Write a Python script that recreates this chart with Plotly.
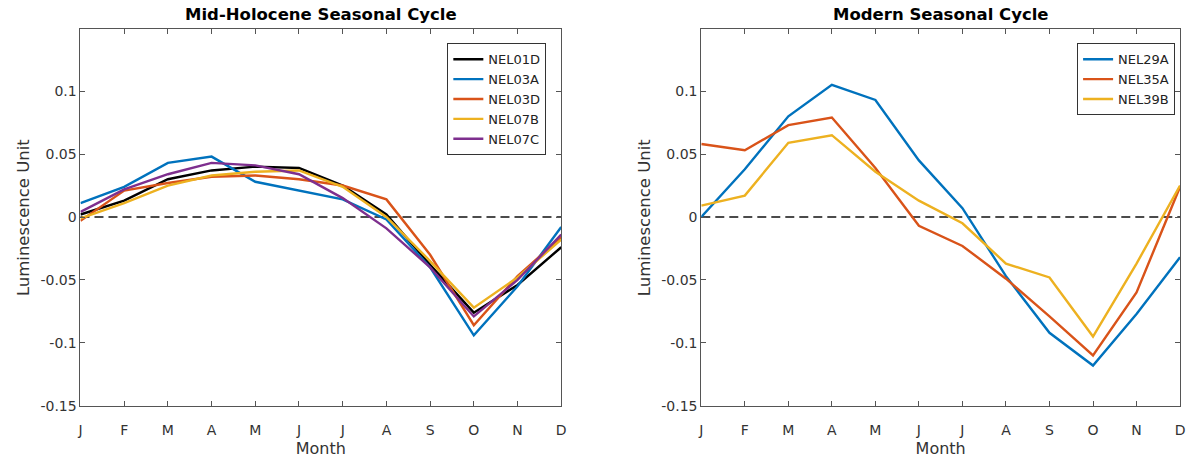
import plotly.graph_objects as go

months = ["J", "F", "M", "A", "M", "J", "J", "A", "S", "O", "N", "D"]

# Mid-Holocene series
nel01d = [0.002, 0.013, 0.030, 0.037, 0.040, 0.039, 0.025, 0.002, -0.038, -0.076, -0.054, -0.024]
nel03a = [0.011, 0.024, 0.043, 0.048, 0.028, 0.021, 0.014, -0.002, -0.040, -0.094, -0.055, -0.008]
nel03d = [-0.003, 0.021, 0.027, 0.032, 0.033, 0.030, 0.025, 0.014, -0.030, -0.086, -0.047, -0.016]
nel07b = [-0.001, 0.011, 0.025, 0.033, 0.036, 0.037, 0.024, 0.000, -0.035, -0.072, -0.048, -0.018]
nel07c = [0.004, 0.022, 0.034, 0.043, 0.041, 0.034, 0.015, -0.009, -0.040, -0.079, -0.050, -0.014]

# Modern series
nel29a = [0.000, 0.038, 0.080, 0.105, 0.093, 0.045, 0.007, -0.047, -0.092, -0.118, -0.077, -0.032]
nel35a = [0.058, 0.053, 0.073, 0.079, 0.039, -0.007, -0.023, -0.049, -0.079, -0.110, -0.060, 0.024]
nel39b = [0.009, 0.017, 0.059, 0.065, 0.036, 0.013, -0.005, -0.037, -0.048, -0.095, -0.037, 0.025]

ytickvals = [-0.15, -0.1, -0.05, 0, 0.05, 0.1]
yticktext = ["-0.15", "-0.1", "-0.05", "0", "0.05", "0.1"]

BLUE = "#0072BD"
ORANGE = "#D95319"
YELLOW = "#EDB120"
PURPLE = "#7E2F8E"
BLACK = "#000000"
TXT = "#333333"
AX = "#555555"
FONT = "DejaVu Sans"

W, H = 1193, 459
xidx = list(range(len(months)))

fig = go.Figure()

left = [("NEL01D", nel01d, BLACK), ("NEL03A", nel03a, BLUE), ("NEL03D", nel03d, ORANGE),
        ("NEL07B", nel07b, YELLOW), ("NEL07C", nel07c, PURPLE)]
right = [("NEL29A", nel29a, BLUE), ("NEL35A", nel35a, ORANGE), ("NEL39B", nel39b, YELLOW)]

for name, vals, col in left:
    fig.add_trace(go.Scatter(x=xidx, y=vals, mode="lines", name=name,
                             line=dict(color=col, width=2.4), xaxis="x", yaxis="y",
                             legend="legend"))
for name, vals, col in right:
    fig.add_trace(go.Scatter(x=xidx, y=vals, mode="lines", name=name,
                             line=dict(color=col, width=2.4), xaxis="x2", yaxis="y2",
                             legend="legend2"))

ydom = [(H - 413) / H, (H - 30) / H]
xd1 = [78 / W, 562 / W]
xd2 = [703 / W, 1185 / W]

axis_common = dict(
    showgrid=False, zeroline=False, showline=True, linecolor=AX, linewidth=1,
    mirror="ticks", ticks="inside", ticklen=5, tickcolor=AX,
    tickfont=dict(family=FONT, size=14, color=TXT),
)

xcommon = dict(axis_common, range=[0, 11], tickvals=xidx, ticktext=months,
               ticklabelstandoff=11,
               title=dict(text="Month", font=dict(family=FONT, size=16, color=TXT), standoff=6))
ycommon = dict(axis_common, range=[-0.15, 0.149], tickvals=ytickvals, ticktext=yticktext,
               title=dict(text="Luminescence Unit", font=dict(family=FONT, size=16.5, color=TXT), standoff=6))

legend_common = dict(yanchor="top", xanchor="right", y=(H - 44) / H,
                     bgcolor="white", bordercolor="#333333", borderwidth=1,
                     font=dict(family=FONT, size=13, color="#222222"),
                     tracegroupgap=0, itemwidth=30)

fig.update_layout(
    width=W, height=H,
    margin=dict(l=0, r=0, t=0, b=0),
    paper_bgcolor="white", plot_bgcolor="white",
    xaxis=dict(xcommon, domain=xd1, anchor="y"),
    yaxis=dict(ycommon, domain=ydom, anchor="x"),
    xaxis2=dict(xcommon, domain=xd2, anchor="y2"),
    yaxis2=dict(ycommon, domain=ydom, anchor="x2"),
    legend=dict(legend_common, x=547 / W),
    legend2=dict(legend_common, x=1180 / W),
    showlegend=True,
    shapes=[
        dict(type="line", xref="x domain", yref="y", x0=0, x1=1, y0=0, y1=0,
             line=dict(color="#111111", width=1.3, dash="9px,5px"), layer="below"),
        dict(type="line", xref="x2 domain", yref="y2", x0=0, x1=1, y0=0, y1=0,
             line=dict(color="#111111", width=1.3, dash="9px,5px"), layer="below"),
    ],
    annotations=[
        dict(text="<b>Mid-Holocene Seasonal Cycle</b>", xref="paper", yref="paper",
             x=(xd1[0] + xd1[1]) / 2, y=(H - 15) / H, xanchor="center", yanchor="middle",
             showarrow=False, font=dict(family=FONT, size=16.5, color="#000000")),
        dict(text="<b>Modern Seasonal Cycle</b>", xref="paper", yref="paper",
             x=(xd2[0] + xd2[1]) / 2, y=(H - 15) / H, xanchor="center", yanchor="middle",
             showarrow=False, font=dict(family=FONT, size=16.5, color="#000000")),
    ],
)

fig.write_html(
    "out.html", config={"displayModeBar": False},
    post_script=("document.documentElement.style.margin='0';"
                 "document.documentElement.style.overflow='hidden';"
                 "document.body.style.margin='0';document.body.style.overflow='hidden';"),
)
